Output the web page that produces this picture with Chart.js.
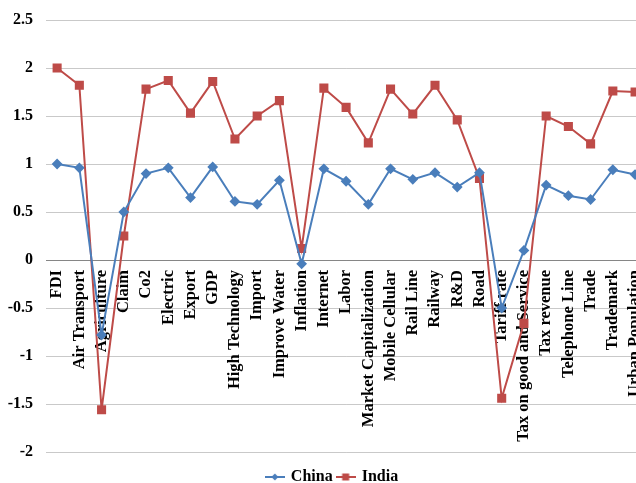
<!DOCTYPE html>
<html>
<head>
<meta charset="utf-8">
<script src="https://cdn.jsdelivr.net/npm/chart.js@4.4.1/dist/chart.umd.min.js"></script>
<style>
    html, body { margin: 0; padding: 0; overflow: hidden; background: #fff; }
    #wrap { width: 665px; height: 483px; }
</style>
</head>
<body>
<div id="wrap"><canvas id="chart"></canvas></div>
<script>
const categories = ['FDI', 'Air Transport', 'Agriculture', 'Claim', 'Co2', 'Electric', 'Export', 'GDP',
    'High Technology', 'Import', 'Improve Water', 'Inflation', 'Internet', 'Labor',
    'Market Capitalization', 'Mobile Cellular', 'Rail Line', 'Railway', 'R&D', 'Road',
    'Tariff rate', 'Tax on good and Service', 'Tax revenue', 'Telephone Line', 'Trade',
    'Trademark', 'Urban Population'];
const china = [1.00, 0.96, -0.78, 0.50, 0.90, 0.96, 0.65, 0.97, 0.61, 0.58, 0.83, -0.04, 0.95, 0.82,
    0.58, 0.95, 0.84, 0.91, 0.76, 0.91, -0.50, 0.10, 0.78, 0.67, 0.63, 0.94, 0.89];
const india = [2.00, 1.82, -1.56, 0.25, 1.78, 1.87, 1.53, 1.86, 1.26, 1.50, 1.66, 0.12, 1.79, 1.59,
    1.22, 1.78, 1.52, 1.82, 1.46, 0.85, -1.44, -0.66, 1.50, 1.39, 1.21, 1.76, 1.75];
const yMin = -2, yMax = 2.5, yStep = 0.5;

const serif = "'Liberation Serif', 'Times New Roman', serif";
const blue = '#4A7EBB';
const red = '#BE4B48';

// little line + marker icon for the legend, like excel does it
function legendIcon(color, style) {
    const c = document.createElement('canvas');
    c.width = 20;
    c.height = 10;
    const g = c.getContext('2d');
    g.strokeStyle = color;
    g.fillStyle = color;
    g.lineWidth = 2;
    g.beginPath();
    g.moveTo(0, 5);
    g.lineTo(20, 5);
    g.stroke();
    g.beginPath();
    if (style == 'rect') {
        g.rect(6.5, 1.5, 7, 7);
    } else {
        g.moveTo(10, 1.5);
        g.lineTo(13.5, 5);
        g.lineTo(10, 8.5);
        g.lineTo(6.5, 5);
        g.closePath();
    }
    g.fill();
    return c;
}

// push the legend a bit lower, closer to the bottom edge
const legendShift = {
    id: 'legendShift',
    afterLayout(chart) {
        if (!chart.legend) return;
        chart.legend.top += 12;
        chart.legend.bottom += 12;
    }
};

const ctx = document.getElementById('chart');
const data = {
    labels: categories,
    datasets: [
        {
            label: 'China',
            data: china,
            borderColor: blue,
            backgroundColor: blue,
            borderWidth: 2,
            pointStyle: 'rectRot',
            pointRadius: 4,
            tension: 0,
        },
        {
            label: 'India',
            data: india,
            borderColor: red,
            backgroundColor: red,
            borderWidth: 2,
            pointStyle: 'rect',
            pointRadius: 5,
            tension: 0,
        }
    ]
};
const icons = [legendIcon(blue, 'rectRot'), legendIcon(red, 'rect')];

const config = {
    type: 'line',
    data: data,
    options: {
        responsive: true,
        maintainAspectRatio: false,
        animation: false,
        layout: { padding: { top: 20, right: 0, bottom: 0, left: 0 } },
        plugins: {
            legend: {
                position: 'bottom',
                labels: {
                    usePointStyle: true,
                    padding: 5,
                    color: '#000',
                    font: { family: serif, size: 16, weight: 'bold' },
                    generateLabels: function (chart) {
                        const items = Chart.defaults.plugins.legend.labels.generateLabels(chart);
                        items.forEach((it, i) => { it.pointStyle = icons[i]; });
                        return items;
                    }
                }
            },
            tooltip: { enabled: false }
        },
        scales: {
            x: {
                position: { y: 0 },
                offset: true,
                z: 1,
                grid: { display: false, drawTicks: false },
                border: { display: true, color: '#868686', width: 1 },
                ticks: {
                    autoSkip: false,
                    minRotation: 90,
                    maxRotation: 90,
                    padding: 10,
                    color: '#000',
                    font: { family: serif, size: 16.5, weight: 'bold' },
                }
            },
            y: {
                min: yMin,
                max: yMax,
                afterFit: function (scale) {
                    scale.width = 46;
                    scale.paddingTop = 0;
                    scale.paddingBottom = 0;
                },
                grid: {
                    drawTicks: false,
                    color: (c) => c.tick && c.tick.value === 0 ? '#868686' : '#c9c9c9',
                },
                border: { display: false },
                ticks: {
                    stepSize: yStep,
                    padding: 13,
                    color: '#000',
                    font: { family: serif, size: 16, weight: 'bold' },
                    callback: (v) => String(+v.toFixed(1)),
                }
            }
        }
    },
    plugins: [legendShift]
};

_ = new Chart(ctx, config);
</script>
</body>
</html>
